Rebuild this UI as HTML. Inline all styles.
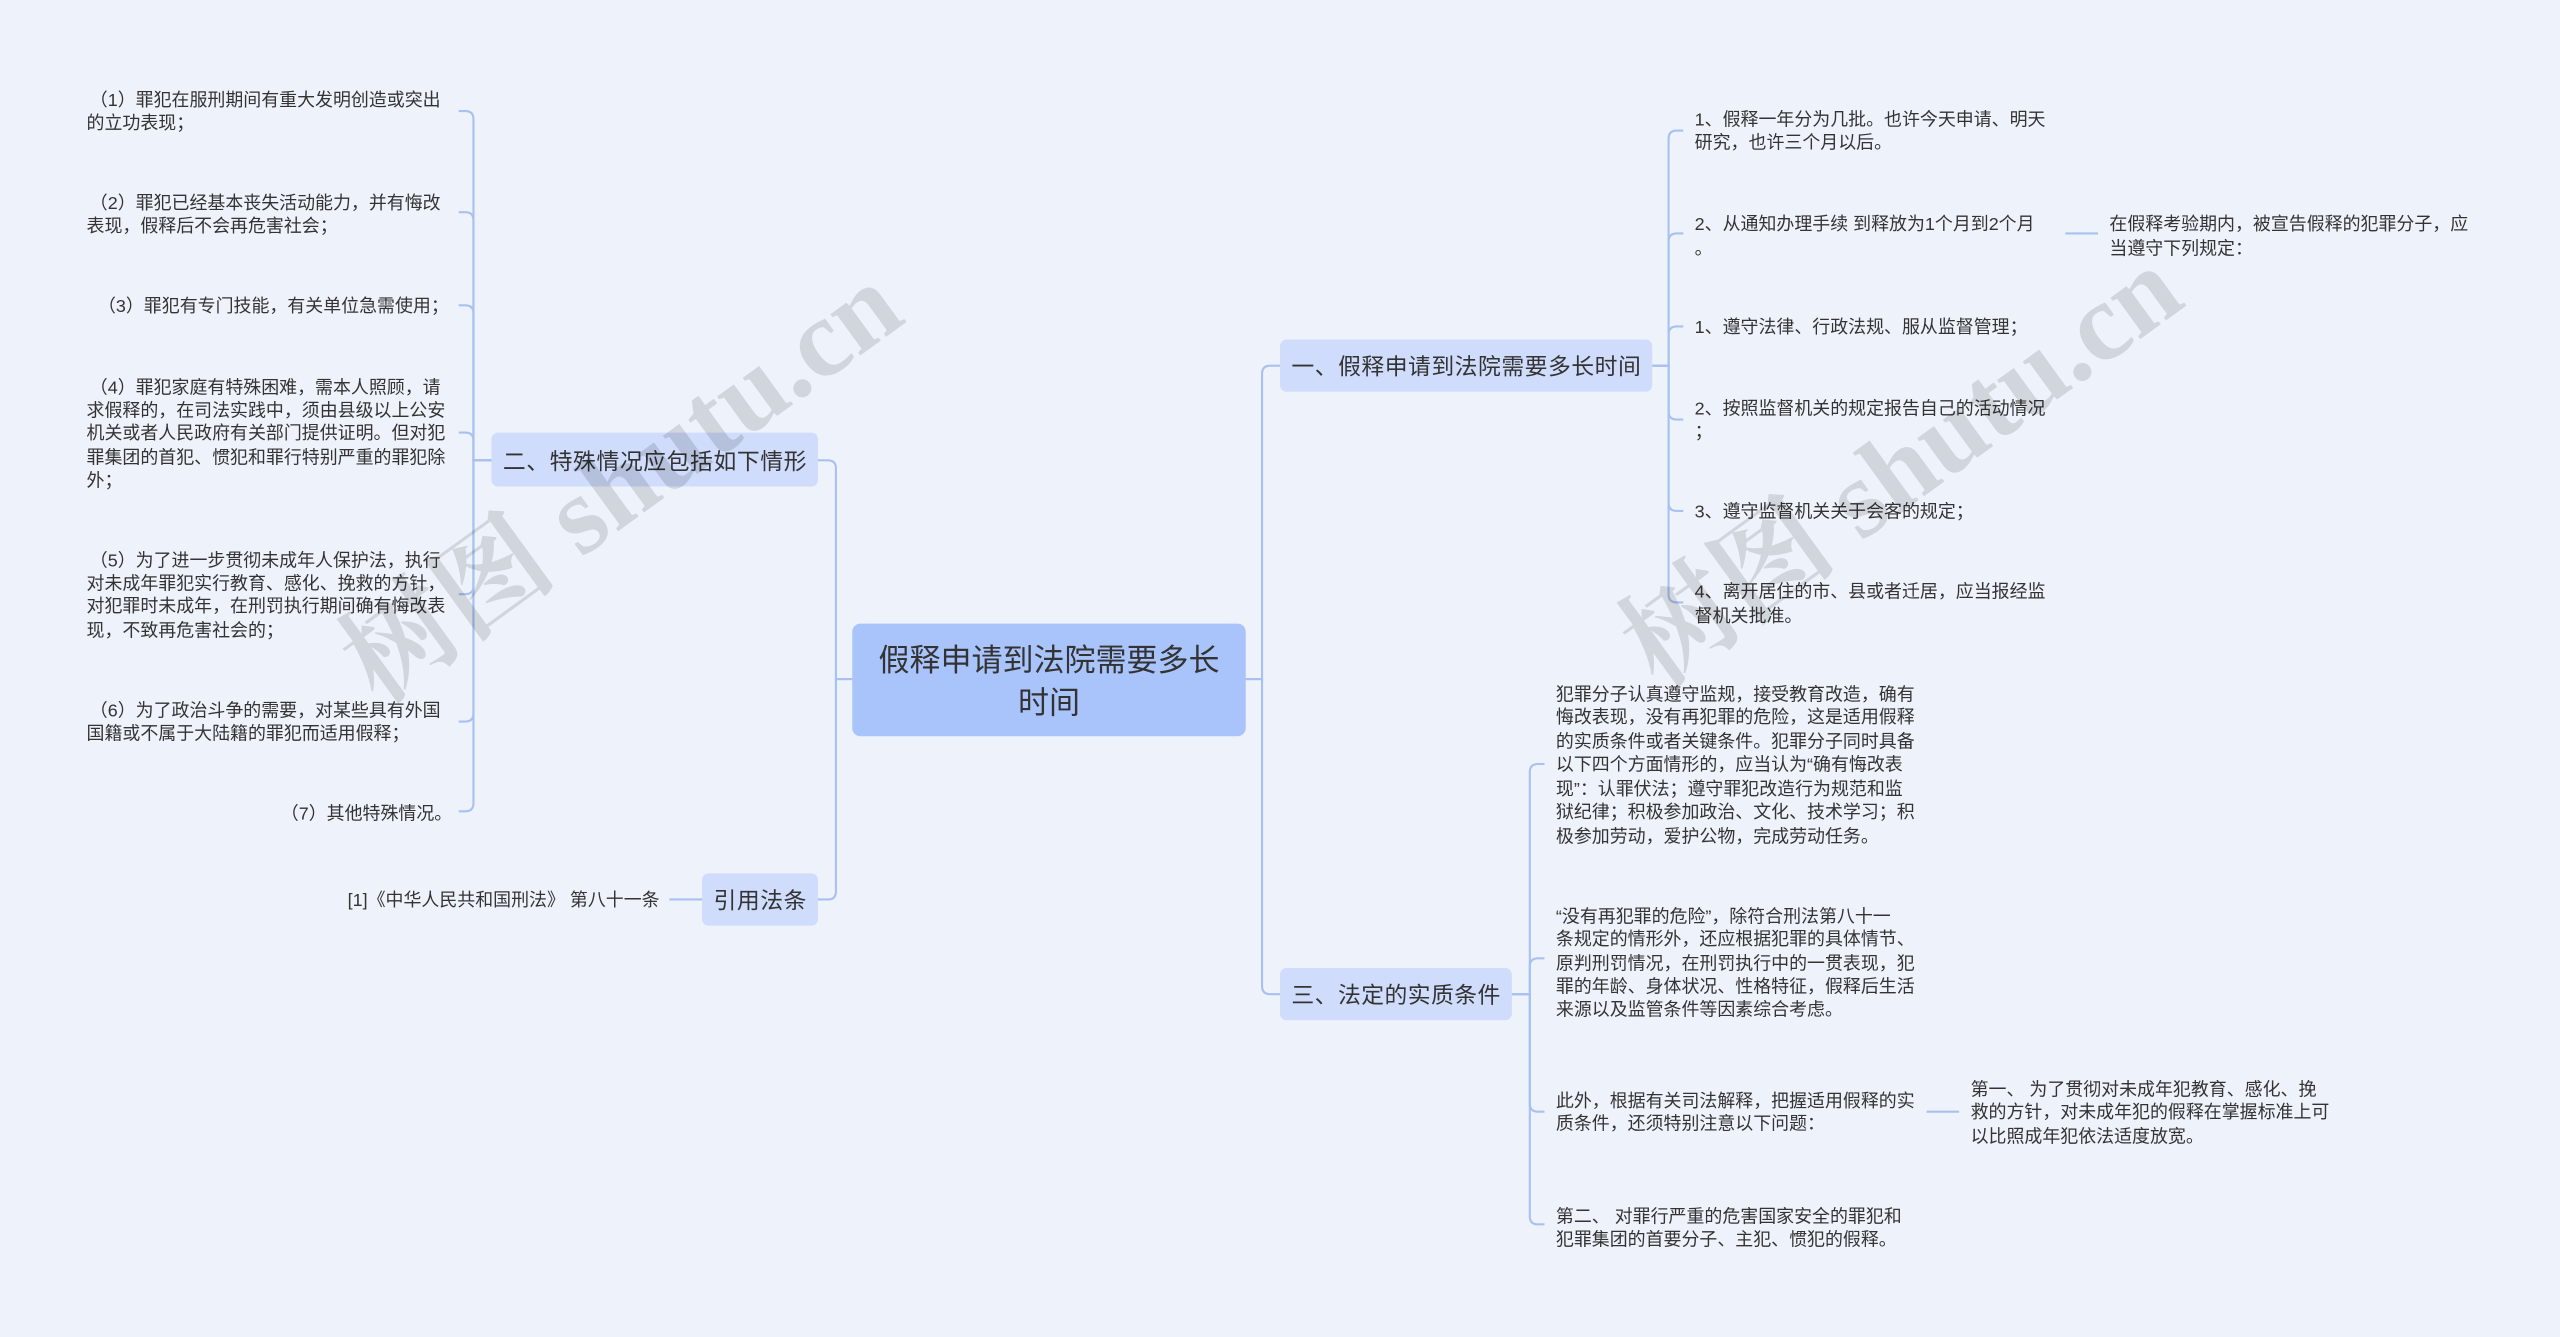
<!DOCTYPE html>
<html><head><meta charset="utf-8"><style>
html,body{margin:0;padding:0;background:#eef3fb;}
svg{display:block}
text{font-family:"Liberation Sans","Noto Sans CJK SC",sans-serif;fill:#333;}
.s{font-size:11px}
.n{font-size:14px}
</style></head><body>
<svg width="2560" height="1337" viewBox="0 0 1568 819" preserveAspectRatio="none" xmlns="http://www.w3.org/2000/svg">
<rect width="1568" height="819" fill="#eef3fb"/>
<g fill="none" stroke="#a9c1f0" stroke-width="1.3">
<path d="M522 416 H512 V287 Q512 282 507 282 H501"/>
<path d="M522 416 H512 V546 Q512 551 507 551 H501"/>
<path d="M763 416 H773 V229 Q773 224 778 224 H784"/>
<path d="M763 416 H773 V604 Q773 609 778 609 H784"/>
<path d="M301 282 H290 V73 Q290 68 285 68 H281"/>
<path d="M301 282 H290 V135 Q290 130 285 130 H281"/>
<path d="M301 282 H290 V192 Q290 187 285 187 H281"/>
<path d="M301 282 H290 V270 Q290 265 285 265 H281"/>
<path d="M301 282 H290 V359 Q290 364 285 364 H281"/>
<path d="M301 282 H290 V437 Q290 442 285 442 H281"/>
<path d="M301 282 H290 V492 Q290 497 285 497 H281"/>
<path d="M430 551 H410"/>
<path d="M1012 224 H1022 V85 Q1022 80 1027 80 H1031"/>
<path d="M1012 224 H1022 V148 Q1022 143 1027 143 H1031"/>
<path d="M1012 224 H1022 V205 Q1022 200 1027 200 H1031"/>
<path d="M1012 224 H1022 V252 Q1022 257 1027 257 H1031"/>
<path d="M1012 224 H1022 V308 Q1022 313 1027 313 H1031"/>
<path d="M1012 224 H1022 V364 Q1022 369 1027 369 H1031"/>
<path d="M1265 143 H1285"/>
<path d="M926 609 H937 V473 Q937 468 942 468 H946"/>
<path d="M926 609 H937 V592 Q937 587 942 587 H946"/>
<path d="M926 609 H937 V676 Q937 681 942 681 H946"/>
<path d="M926 609 H937 V745 Q937 750 942 750 H946"/>
<path d="M1180 681 H1200"/>
</g>
<rect x="522" y="382" width="241" height="69" rx="5" fill="#a9c3fb"/>
<text x="642.5" y="411" text-anchor="middle" style="font-size:19px">假释申请到法院需要多长</text>
<text x="642.5" y="437" text-anchor="middle" style="font-size:19px">时间</text>
<rect x="784" y="208" width="228" height="32" rx="4" fill="#cfdcfb"/>
<text x="791" y="229.5" class="n" textLength="214">一、假释申请到法院需要多长时间</text>
<rect x="301" y="265" width="200" height="33" rx="4" fill="#cfdcfb"/>
<text x="308" y="287.5" class="n" textLength="186">二、特殊情况应包括如下情形</text>
<rect x="430" y="535" width="71" height="32" rx="4" fill="#cfdcfb"/>
<text x="437" y="556.5" class="n" textLength="57">引用法条</text>
<rect x="784" y="593" width="142" height="32" rx="4" fill="#cfdcfb"/>
<text x="791" y="614.5" class="n" textLength="128">三、法定的实质条件</text>
<g class="s">
<text x="55" y="65">（1）罪犯在服刑期间有重大发明创造或突出</text>
<text x="53" y="79">的立功表现；</text>
<text x="55" y="128">（2）罪犯已经基本丧失活动能力，并有悔改</text>
<text x="53" y="142">表现，假释后不会再危害社会；</text>
<text x="60" y="191">（3）罪犯有专门技能，有关单位急需使用；</text>
<text x="55" y="241">（4）罪犯家庭有特殊困难，需本人照顾，请</text>
<text x="53" y="255">求假释的，在司法实践中，须由县级以上公安</text>
<text x="53" y="269">机关或者人民政府有关部门提供证明。但对犯</text>
<text x="53" y="284">罪集团的首犯、惯犯和罪行特别严重的罪犯除</text>
<text x="53" y="298">外；</text>
<text x="55" y="347">（5）为了进一步贯彻未成年人保护法，执行</text>
<text x="53" y="361">对未成年罪犯实行教育、感化、挽救的方针，</text>
<text x="53" y="375">对犯罪时未成年，在刑罚执行期间确有悔改表</text>
<text x="53" y="390">现，不致再危害社会的；</text>
<text x="55" y="439">（6）为了政治斗争的需要，对某些具有外国</text>
<text x="53" y="453">国籍或不属于大陆籍的罪犯而适用假释；</text>
<text x="172" y="502">（7）其他特殊情况。</text>
<text x="404" y="555" text-anchor="end">[1]《中华人民共和国刑法》 第八十一条</text>
<text x="1038" y="77">1、假释一年分为几批。也许今天申请、明天</text>
<text x="1038" y="91">研究，也许三个月以后。</text>
<text x="1038" y="141">2、从通知办理手续 到释放为1个月到2个月</text>
<text x="1038" y="156">。</text>
<text x="1292" y="141">在假释考验期内，被宣告假释的犯罪分子，应</text>
<text x="1292" y="156">当遵守下列规定：</text>
<text x="1038" y="204">1、遵守法律、行政法规、服从监督管理；</text>
<text x="1038" y="254">2、按照监督机关的规定报告自己的活动情况</text>
<text x="1038" y="268">；</text>
<text x="1038" y="317">3、遵守监督机关关于会客的规定；</text>
<text x="1038" y="366">4、离开居住的市、县或者迁居，应当报经监</text>
<text x="1038" y="381">督机关批准。</text>
<text x="953" y="429">犯罪分子认真遵守监规，接受教育改造，确有</text>
<text x="953" y="443">悔改表现，没有再犯罪的危险，这是适用假释</text>
<text x="953" y="458">的实质条件或者关键条件。犯罪分子同时具备</text>
<text x="953" y="472">以下四个方面情形的，应当认为“确有悔改表</text>
<text x="953" y="487">现”：认罪伏法；遵守罪犯改造行为规范和监</text>
<text x="953" y="501">狱纪律；积极参加政治、文化、技术学习；积</text>
<text x="953" y="516">极参加劳动，爱护公物，完成劳动任务。</text>
<text x="953" y="565">“没有再犯罪的危险”，除符合刑法第八十一</text>
<text x="953" y="579">条规定的情形外，还应根据犯罪的具体情节、</text>
<text x="953" y="594">原判刑罚情况，在刑罚执行中的一贯表现，犯</text>
<text x="953" y="608">罪的年龄、身体状况、性格特征，假释后生活</text>
<text x="953" y="622">来源以及监管条件等因素综合考虑。</text>
<text x="953" y="678">此外，根据有关司法解释，把握适用假释的实</text>
<text x="953" y="692">质条件，还须特别注意以下问题：</text>
<text x="1207" y="671">第一、 为了贯彻对未成年犯教育、感化、挽</text>
<text x="1207" y="685">救的方针，对未成年犯的假释在掌握标准上可</text>
<text x="1207" y="700">以比照成年犯依法适度放宽。</text>
<text x="953" y="749">第二、 对罪行严重的危害国家安全的罪犯和</text>
<text x="953" y="763">犯罪集团的首要分子、主犯、惯犯的假释。</text>
</g>
<text x="0" y="0" transform="translate(232 432) rotate(-36)" style="font-size:68px;font-family:'Liberation Serif','Noto Serif CJK SC',serif;font-weight:bold;fill:#000;fill-opacity:0.12">树图 shutu.cn</text>
<text x="0" y="0" transform="translate(1016 422) rotate(-36)" style="font-size:68px;font-family:'Liberation Serif','Noto Serif CJK SC',serif;font-weight:bold;fill:#000;fill-opacity:0.12">树图 shutu.cn</text>
</svg>
</body></html>
